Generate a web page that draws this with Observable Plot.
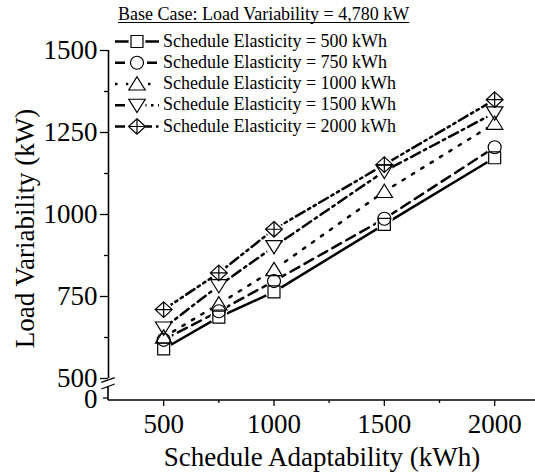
<!DOCTYPE html>
<html><head><meta charset="utf-8">
<script src="https://cdn.jsdelivr.net/npm/d3@7"></script>
<script src="https://cdn.jsdelivr.net/npm/@observablehq/plot@0.6"></script>
<style>body{margin:0;background:#fff}</style>
</head><body><div id="chart"></div>
<script>
// ---- data ----
const adaptability = [500, 750, 1000, 1500, 2000];
const elasticity = [500, 750, 1000, 1500, 2000];
const lv500  = [590, 687, 764, 970, 1173];
const lv750  = [618, 705, 797, 987, 1205];
const lv1000 = [626, 727, 832, 1070, 1278];
const lv1500 = [654, 783, 902, 1132, 1310];
const lv2000 = [710, 822, 955, 1152, 1350];
const seriesValues = [lv500, lv750, lv1000, lv1500, lv2000];
const xTicks = [500, 1000, 1500, 2000];
const xMinorTicks = [750, 1250, 1750];
const yTicks = [500, 750, 1000, 1250, 1500];
const yMinorTicks = [625, 875, 1125, 1375];
const yBreakLabel = "0";
const xDomain = [250, 2185];
const yDomain = [500, 1500];
const baseCaseText = "Base Case: Load Variability = 4,780 kW";
const xTitle = "Schedule Adaptability (kWh)";
const yTitle = "Load Variability (kW)";
const seriesNames = elasticity.map(e => `Schedule Elasticity = ${e} kWh`);

// ---- styles ----
const dashes = ["none", "10,6", "2.5,8.5", "10,4.5,2.5,4.5", "10,4,2.5,4,2.5,4"];
const rad = s => Math.sqrt(s / Math.PI);
const symbols = [
  {draw(c, s){const r = rad(s), h = r*0.92; c.moveTo(-h,-h); c.lineTo(h,-h); c.lineTo(h,h); c.lineTo(-h,h); c.closePath();}},
  {draw(c, s){const r = rad(s); c.moveTo(r,0); c.arc(0,0,r,0,2*Math.PI); c.closePath();}},
  {draw(c, s){const r = rad(s); c.moveTo(0,-1.12*r); c.lineTo(1.26*r,0.92*r); c.lineTo(-1.26*r,0.92*r); c.closePath();}},
  {draw(c, s){const r = rad(s); c.moveTo(0,1.12*r); c.lineTo(1.26*r,-0.92*r); c.lineTo(-1.26*r,-0.92*r); c.closePath();}},
  {draw(c, s){const r = rad(s), a = 1.3*r, b = 1.2*r; c.moveTo(0,-b); c.lineTo(a,0); c.lineTo(0,b); c.lineTo(-a,0); c.closePath(); c.moveTo(0,-b); c.lineTo(0,b); c.moveTo(-a,0); c.lineTo(a,0);}}
];

const rows = [];
seriesValues.forEach((vals, i) => vals.forEach((v, j) => rows.push({x: adaptability[j], v, s: i})));

const fmt = d => String(d);
const marks = [
  Plot.ruleX([xDomain[0]], {y1: yDomain[0], y2: yDomain[1], stroke: "black", strokeWidth: 1.6}),
  Plot.axisX({ticks: xTicks, tickSize: 6, tickPadding: 7, tickFormat: fmt, label: null, strokeWidth: 1.3}),
  Plot.axisX({ticks: xMinorTicks, tickSize: 3, text: null, label: null, strokeWidth: 1.3}),
  Plot.axisY({ticks: yTicks, tickSize: 8, tickPadding: 3, tickFormat: fmt, label: null, strokeWidth: 1.3}),
  Plot.axisY({ticks: yMinorTicks, tickSize: 4, text: null, label: null, strokeWidth: 1.3}),
  Plot.text([yBreakLabel], {frameAnchor: "bottom-left", dx: -11, dy: -1, textAnchor: "end", lineAnchor: "middle", fontSize: 27}),
  Plot.text([xTitle], {frameAnchor: "bottom", dy: 57, lineAnchor: "middle", textAnchor: "middle", fontSize: 27}),
  Plot.text([yTitle], {frameAnchor: "left", rotate: -90, dx: -83, dy: 3, lineAnchor: "middle", textAnchor: "middle", fontSize: 27})
];
seriesValues.forEach((_, i) => {
  marks.push(Plot.line(rows.filter(r => r.s === i), {x: "x", y: "v", stroke: "black", strokeWidth: 2.5, strokeDasharray: dashes[i]}));
});
marks.push(Plot.dot(rows, {x: "x", y: "v", r: 8.5, fill: "white", stroke: "none"}));
seriesValues.forEach((_, i) => {
  marks.push(Plot.dot(rows.filter(r => r.s === i), {x: "x", y: "v", r: 6.5, symbol: symbols[i], fill: "none", stroke: "black", strokeWidth: 1.2}));
});

const chart = Plot.plot({
  width: 535, height: 475,
  marginLeft: 108, marginRight: 0, marginTop: 50, marginBottom: 75,
  style: {fontFamily: "Liberation Serif, Times New Roman, serif", fontSize: "27px", color: "black", background: "white", overflow: "visible"},
  x: {domain: xDomain, range: [108, 535]},
  y: {domain: yDomain, range: [378, 50]},
  marks
});
document.getElementById("chart").appendChild(chart);

// ---- axis break, baseline & legend decorations ----
const svg = d3.select(chart);
const sx = chart.scale("x"), sy = chart.scale("y");
const X0 = sx.apply(xDomain[0]), Y500 = sy.apply(yDomain[0]), Y0 = 475 - 75;
const deco = svg.append("g").attr("stroke", "black").attr("fill", "none");
deco.append("line").attr("x1", X0).attr("x2", 535).attr("y1", Y0).attr("y2", Y0).attr("stroke-width", 1.6);
deco.append("line").attr("x1", X0).attr("x2", X0).attr("y1", Y500 + 8).attr("y2", Y0).attr("stroke-width", 1.6);
deco.append("line").attr("x1", X0 - 5).attr("x2", X0).attr("y1", Y0 - 2).attr("y2", Y0 - 2).attr("stroke-width", 1.3);
deco.append("line").attr("x1", X0 - 6.7).attr("y1", Y500 + 4.3).attr("x2", X0 + 6.7).attr("y2", Y500 - 0.3).attr("stroke-width", 1.3);
deco.append("line").attr("x1", X0 - 6.7).attr("y1", Y500 + 11).attr("x2", X0 + 6.7).attr("y2", Y500 + 6).attr("stroke-width", 1.3);

const lg = svg.append("g").attr("font-family", "Liberation Serif, Times New Roman, serif").attr("font-size", 18).attr("text-anchor", "start");
const title = lg.append("text").attr("x", 118).attr("y", 20).attr("fill", "black").text(baseCaseText);
const tw = title.node().getComputedTextLength();
lg.append("line").attr("x1", 118).attr("x2", 118 + tw).attr("y1", 22.5).attr("y2", 22.5).attr("stroke", "black").attr("stroke-width", 1);
seriesNames.forEach((name, i) => {
  const base = 46.5 + i * 21.25, cy = base - 5;
  lg.append("line").attr("x1", 115).attr("x2", 159).attr("y1", cy).attr("y2", cy)
    .attr("stroke", "black").attr("stroke-width", 2.5).attr("stroke-dasharray", dashes[i]);
  lg.append("circle").attr("cx", 137).attr("cy", cy).attr("r", 8.5).attr("fill", "white");
  lg.append("path").attr("transform", `translate(137,${cy})`)
    .attr("d", d3.symbol(symbols[i], Math.PI * 6.5 * 6.5)())
    .attr("fill", "none").attr("stroke", "black").attr("stroke-width", 1.2);
  lg.append("text").attr("x", 163).attr("y", base).attr("fill", "black").text(name);
});
</script>
</body></html>
